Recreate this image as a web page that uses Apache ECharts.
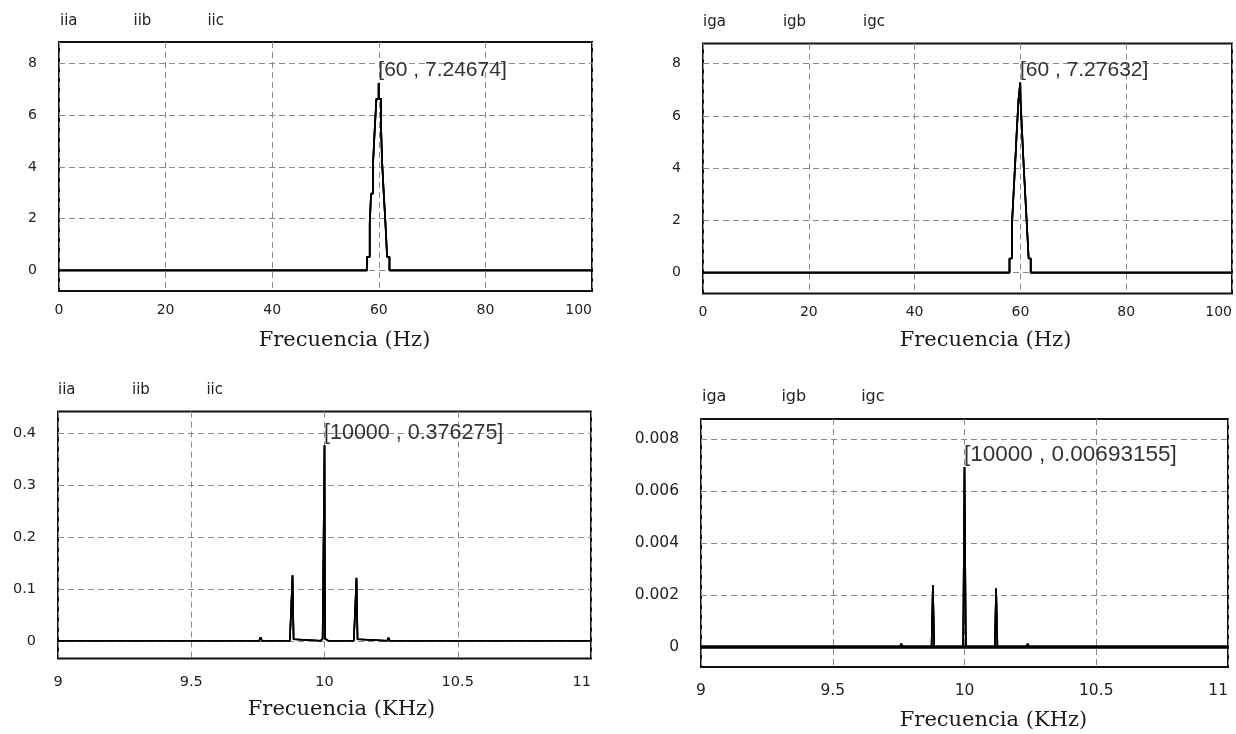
<!DOCTYPE html>
<html>
<head>
<meta charset="utf-8">
<script src="https://cdn.jsdelivr.net/npm/echarts@6/dist/echarts.min.js"></script>
<style>
html,body{margin:0;padding:0;background:#fff;}
#c{width:1236px;height:734px;}
</style>
</head>
<body>
<div id="c"></div>
<script>
// ---------- DATA ----------
// Top-left: currents iia, iib, iic spectrum (Hz) — the three phase spectra coincide
var tlFreq = [0, 57.8, 58.3, 58.55, 58.93, 59.24, 59.55, 59.97, 60.03, 60.43, 60.62, 60.93, 61.25, 61.56, 62.0, 100];
var tlAmp  = [0, 0.52, 1.81, 2.97, 4.19, 5.48, 6.64, 7.24674, 6.64, 5.48, 4.19, 2.97, 1.81, 0.52, 0, 0];
var tlPeak = [60, 7.24674];
var tlNames = ['iia', 'iib', 'iic'];

// Top-right: currents iga, igb, igc spectrum (Hz)
var trFreq = [0, 57.94, 58.38, 58.69, 59.01, 59.32, 59.64, 59.97, 60.03, 60.3, 60.6, 60.92, 61.24, 61.56, 61.95, 100];
var trAmp  = [0, 0.54, 1.75, 2.96, 4.17, 5.45, 6.6, 7.27632, 6.6, 5.45, 4.17, 2.96, 1.75, 0.54, 0, 0];
var trPeak = [60, 7.27632];
var trNames = ['iga', 'igb', 'igc'];

// Bottom-left: iia, iib, iic spectrum around switching frequency (KHz)
var blFreq = [9.0, 9.755, 9.76, 9.765, 9.87, 9.876, 9.88, 9.884, 9.89, 9.985, 9.993, 9.998, 10.0, 10.002, 10.007, 10.015, 10.11, 10.116, 10.12, 10.124, 10.13, 10.235, 10.24, 10.245, 11.0];
var blAmp  = [0, 0, 0.007, 0, 0, 0.003, 0.126, 0.003, 0, 0, 0.004, 0.004, 0.376275, 0.004, 0.004, 0, 0, 0.003, 0.121, 0.003, 0, 0, 0.006, 0, 0];
var blPeak = [10000, 0.376275];

// Bottom-right: iga, igb, igc spectrum around switching frequency (KHz)
var brFreq = [9.0, 9.755, 9.76, 9.765, 9.875, 9.88, 9.885, 9.995, 10.0, 10.005, 10.115, 10.12, 10.125, 10.235, 10.24, 10.245, 11.0];
var brAmp  = [0, 0, 0.00012, 0, 0, 0.00238, 0, 0, 0.00693155, 0, 0, 0.00225, 0, 0, 0.00012, 0, 0];
var brPeak = [10000, 0.00693155];

// Tick values
var hzTicks = [0, 20, 40, 60, 80, 100];
var khzTicks = [9, 9.5, 10, 10.5, 11];
var topYTicks = [0, 2, 4, 6, 8];
var blYTicks = [0, 0.1, 0.2, 0.3, 0.4];
var brYTicks = [0, 0.002, 0.004, 0.006, 0.008];

// ---------- CHART ----------
function zip(a, b) { return a.map(function (v, i) { return [v, b[i]]; }); }

var SANS = "'DejaVu Sans', Verdana, sans-serif";
var LABEL = "'Liberation Sans', Arial, sans-serif";
var SERIF = "'DejaVu Serif', serif";
var gridLine = { show: true, lineStyle: { color: '#8a8a8a', width: 1, type: [6, 4] } };

function xAxis(gi, min, max, interval, name, gap, shift, margin, fs) {
  return {
    gridIndex: gi, type: 'value', min: min, max: max, interval: interval,
    name: name, nameLocation: 'middle', nameGap: gap,
    nameTextStyle: { fontFamily: SERIF, fontSize: 21, color: '#1a1a1a', padding: [0, 0, 0, shift] },
    axisLine: { show: false }, axisTick: { show: false },
    axisLabel: { fontFamily: SANS, fontSize: fs, color: '#222', margin: margin, alignMaxLabel: 'right' },
    splitLine: gridLine
  };
}
function yAxis(gi, min, max, ticks, fs) {
  return {
    gridIndex: gi, type: 'value', min: min, max: max,
    axisLine: { show: false },
    axisTick: { show: false, customValues: ticks },
    axisLabel: { fontFamily: SANS, fontSize: fs, color: '#222', margin: 22, customValues: ticks },
    splitLine: gridLine
  };
}
function peakMark(coord, text, fs) {
  return {
    silent: true, symbol: 'rect', symbolSize: 1,
    itemStyle: { color: 'rgba(0,0,0,0)' },
    data: [{ coord: coord }],
    label: { show: true, formatter: text, position: [0, -12], align: 'left', verticalAlign: 'middle',
             fontFamily: LABEL, fontSize: fs, color: '#333' }
  };
}
function makeSeries(names, gi, freq, amp, width, common, first) {
  return names.map(function (n, k) {
    var s = {
      name: n, type: 'line', xAxisIndex: gi, yAxisIndex: gi,
      data: zip(freq, amp), symbol: 'none', showSymbol: false,
      lineStyle: { color: '#000', width: width }, itemStyle: { color: '#000' },
      animation: false, z: 3
    };
    var key;
    if (common) { for (key in common) s[key] = common[key]; }
    if (k === 0 && first) { for (key in first) s[key] = first[key]; }
    return s;
  });
}
function legend(names, left, top, gap, fs) {
  return {
    data: names, left: left, top: top, icon: 'rect', itemWidth: 2, itemHeight: 2, itemGap: gap,
    itemStyle: { color: 'rgba(0,0,0,0)', opacity: 0 }, selectedMode: false,
    textStyle: { fontFamily: SANS, fontSize: fs, color: '#222' }
  };
}

var gridBox = { show: true, borderColor: '#111', borderWidth: 2, backgroundColor: '#fff',
                containLabel: false, outerBoundsMode: 'none' };

var series = [].concat(
  makeSeries(tlNames, 0, tlFreq, tlAmp, 1.7, { step: 'end' },
             { markPoint: peakMark(tlPeak, '[' + tlPeak[0] + ' , ' + tlPeak[1] + ']', 21) }),
  makeSeries(trNames, 1, trFreq, trAmp, 1.7, { step: 'end' },
             { markPoint: peakMark(trPeak, '[' + trPeak[0] + ' , ' + trPeak[1] + ']', 21) }),
  makeSeries(tlNames, 2, blFreq, blAmp, 1.6, null,
             { markPoint: peakMark([blPeak[0] / 1000, blPeak[1]], '[' + blPeak[0] + ' , ' + blPeak[1] + ']', 21.5) }),
  makeSeries(trNames, 3, brFreq, brAmp, 1.6, null, {
    markPoint: peakMark([brPeak[0] / 1000, brPeak[1]], '[' + brPeak[0] + ' , ' + brPeak[1] + ']', 22.5),
    markLine: { silent: true, symbol: 'none', label: { show: false }, animation: false,
                lineStyle: { color: '#000', width: 3.5, type: 'solid' }, data: [{ yAxis: 0 }] }
  })
);

var option = {
  backgroundColor: '#fff',
  animation: false,
  grid: [
    Object.assign({ left: 59, top: 42, width: 533, height: 249 }, gridBox),
    Object.assign({ left: 703, top: 43.5, width: 529, height: 250 }, gridBox),
    Object.assign({ left: 58, top: 411.5, width: 533, height: 247 }, gridBox),
    Object.assign({ left: 701, top: 419, width: 527, height: 248 }, gridBox)
  ],
  legend: [
    legend(tlNames, 48, 9, 49, 15),
    legend(trNames, 691, 10, 50, 15),
    legend(tlNames, 46, 378, 49.5, 15),
    legend(trNames, 690, 384, 48, 16)
  ],
  xAxis: [
    xAxis(0, hzTicks[0], hzTicks[hzTicks.length - 1], 20, 'Frecuencia (Hz)', 39, 38, 12, 14),
    xAxis(1, hzTicks[0], hzTicks[hzTicks.length - 1], 20, 'Frecuencia (Hz)', 37, 36, 12, 14),
    xAxis(2, khzTicks[0], khzTicks[khzTicks.length - 1], 0.5, 'Frecuencia (KHz)', 41, 34, 16, 14.5),
    xAxis(3, khzTicks[0], khzTicks[khzTicks.length - 1], 0.5, 'Frecuencia (KHz)', 43, 58, 16, 15.5)
  ],
  yAxis: [
    yAxis(0, -0.8, 8.84, topYTicks, 14),
    yAxis(1, -0.8, 8.77, topYTicks, 14),
    yAxis(2, -0.034, 0.441, blYTicks, 14.5),
    yAxis(3, -0.00077, 0.00878, brYTicks, 15.5)
  ],
  series: series
};

var chart = echarts.init(document.getElementById('c'), null, { renderer: 'canvas' });
chart.setOption(option);
</script>
</body>
</html>
